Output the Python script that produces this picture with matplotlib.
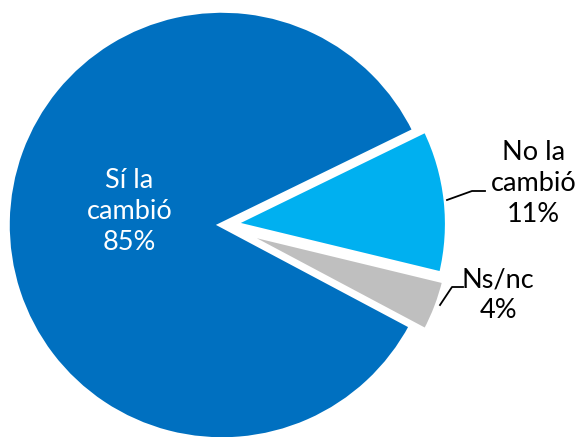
import numpy as np
import matplotlib.pyplot as plt

labels = ['No la\ncambió', 'Ns/nc', 'Sí la\ncambió']
values = [11, 4, 85]
colors = ['#00B0F0', '#BFBFBF', '#0070C0']
explode = [0.05, 0.07, 0]

plt.rcParams['font.family'] = ['Lato', 'DejaVu Sans']

fig = plt.figure(figsize=(5.82, 4.37), dpi=100)
ax = fig.add_axes([0, 0, 1, 1])

# pie radius 1 -> 215 px, centre at pixel (222, 225)
r_px = 215
cx, cy = 222, 225
ax.pie(values, colors=colors, explode=explode, startangle=26, counterclock=False,
       radius=1, wedgeprops=dict(edgecolor='white', linewidth=4))
ax.set_xlim(-cx / r_px, (582 - cx) / r_px)
ax.set_ylim(-(437 - cy) / r_px, cy / r_px)
ax.set_aspect('equal')
ax.axis('off')

fs = 19.5
ax.text(-0.43, 0.065, f'{labels[2]}\n{values[2]}%', ha='center', va='center',
        color='white', fontsize=fs, linespacing=1.3)
ax.text(1.45, 0.195, f'{labels[0]}\n{values[0]}%', ha='center', va='center',
        color='black', fontsize=fs, linespacing=1.3)
ax.text(1.284, -0.326, f'{labels[1]}\n{values[1]}%', ha='center', va='center',
        color='black', fontsize=fs, linespacing=1.3)

# leader lines (pixel coords converted to data)
def px(x, y):
    return (x - cx) / r_px, (cy - y) / r_px

for pts in [[(447, 200), (472, 191), (485, 191)], [(440, 305), (452, 287), (463, 287)]]:
    xy = np.array([px(*p) for p in pts])
    ax.plot(xy[:, 0], xy[:, 1], color='black', lw=1.3)

fig.savefig('out.png', dpi=100)
